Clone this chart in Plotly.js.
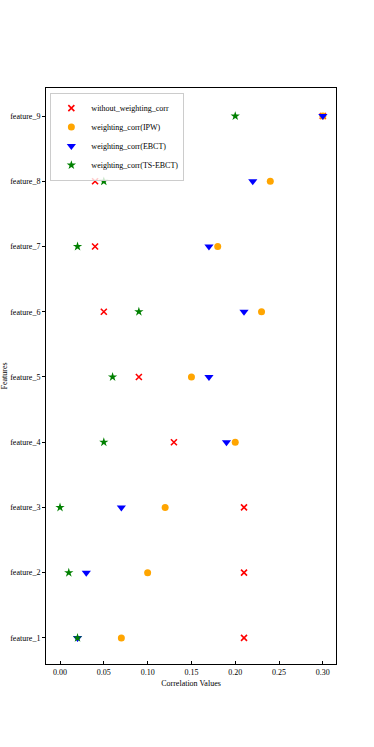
<!DOCTYPE html>
<html>
<head>
<meta charset="utf-8">
<script src="https://cdn.plot.ly/plotly-3.0.1.min.js"></script>
<style>body{margin:0;background:#fff}#chart{width:374px;height:747px}</style>
</head>
<body>
<div id="chart"></div>
<script>
let features=['feature_1','feature_2','feature_3','feature_4','feature_5','feature_6','feature_7','feature_8','feature_9'];
let without_corr=[0.21,0.21,0.21,0.13,0.09,0.05,0.04,0.04,0.30];
let ipw_corr=[0.07,0.10,0.12,0.20,0.15,0.23,0.18,0.24,0.30];
let ebct_corr=[0.02,0.03,0.07,0.19,0.17,0.21,0.17,0.22,0.30];
let tsebct_corr=[0.02,0.01,0.00,0.05,0.06,0.09,0.02,0.05,0.20];
let xticks=[0,0.05,0.10,0.15,0.20,0.25,0.30];
let xtickText=['0.00','0.05','0.10','0.15','0.20','0.25','0.30'];

function series(name,vals,sym,color,size){
  return {
    x: vals,
    y: features,
    name: name,
    type: 'scatter',
    mode: 'markers',
    marker: {symbol: sym, color: color, size: size, line: {width: 0}}
  };
}

let re=[
  series('without_weighting_corr',without_corr,'x-thin-open','red',6),
  series('weighting_corr(IPW)',ipw_corr,'circle','orange',7),
  series('weighting_corr(EBCT)',ebct_corr,'triangle-down','blue',8),
  series('weighting_corr(TS-EBCT)',tsebct_corr,'star','green',7)
];
re[0].marker.line={width:1.6,color:'red'};

let font={family:'Liberation Serif, Times New Roman, serif',size:8,color:'#000'};
let layout={
  width:374,height:747,
  margin:{l:46,r:38,t:88,b:83},
  paper_bgcolor:'#fff',plot_bgcolor:'#fff',
  font:font,
  showlegend:true,
  legend:{x:0.015,y:0.992,xanchor:'left',yanchor:'top',bgcolor:'rgba(255,255,255,0.8)',
    bordercolor:'#ccc',borderwidth:1,font:{family:font.family,size:8,color:'#000'},tracegroupgap:0,itemwidth:20},
  xaxis:{
    range:[-0.016,0.315],tickvals:xticks,ticktext:xtickText,
    ticks:'inside',ticklen:3,tickcolor:'#000',
    showline:true,linecolor:'#000',linewidth:1,mirror:true,
    showgrid:false,zeroline:false,
    title:{text:'Correlation Values',font:{family:font.family,size:8},standoff:4}
  },
  yaxis:{
    type:'category',categoryorder:'array',categoryarray:features,
    range:[-0.4,8.43],
    ticks:'outside',ticklen:3,tickcolor:'#000',
    showline:true,linecolor:'#000',linewidth:1,mirror:true,
    showgrid:false,zeroline:false,
    title:{text:'Features',font:{family:font.family,size:8},standoff:6}
  }
};
Plotly.newPlot('chart',re,layout,{displayModeBar:false});
</script>
</body>
</html>
